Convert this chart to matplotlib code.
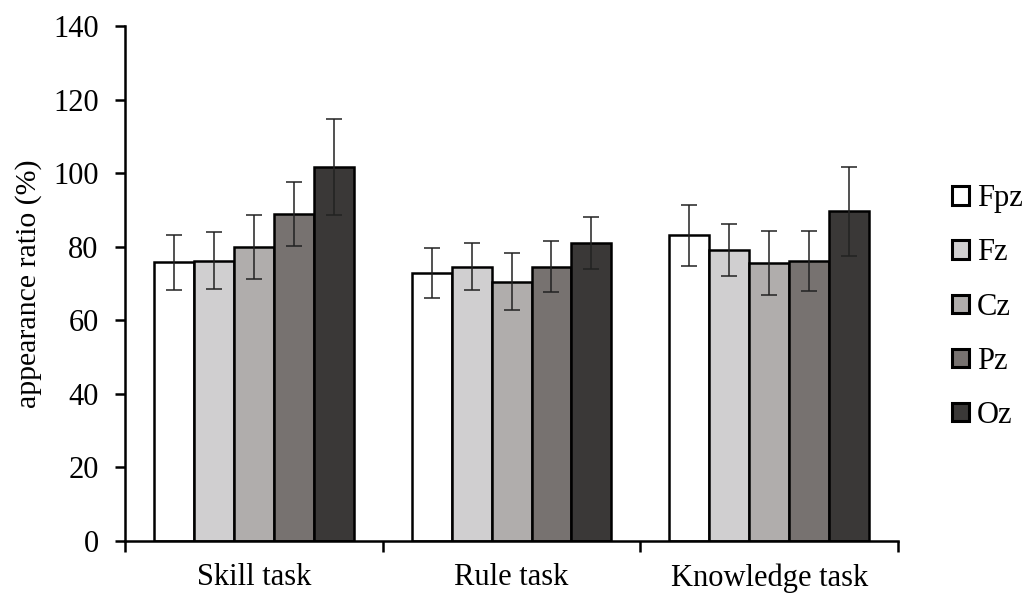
import numpy as np
import matplotlib
matplotlib.use("Agg")
import matplotlib.pyplot as plt
from matplotlib.ticker import FixedLocator

plt.rcParams["font.family"] = ["Liberation Serif", "DejaVu Serif"]

tasks = ["Skill task", "Rule task", "Knowledge task"]
channels = ["Fpz", "Fz", "Cz", "Pz", "Oz"]

# mean appearance ratio (%) per channel, one entry per task
fpz = [75.8, 72.9, 83.1]
fz = [76.2, 74.6, 79.1]
cz = [79.9, 70.5, 75.7]
pz = [88.8, 74.6, 76.1]
oz = [101.7, 81.0, 89.6]

# error bar half-widths
fpz_err = [7.5, 6.8, 8.3]
fz_err = [7.7, 6.5, 7.1]
cz_err = [8.7, 7.7, 8.7]
pz_err = [8.7, 7.0, 8.2]
oz_err = [13.0, 7.1, 12.2]

means = [fpz, fz, cz, pz, oz]
errs = [fpz_err, fz_err, cz_err, pz_err, oz_err]
colors = ["#ffffff", "#d0cfd0", "#b0adac", "#777270", "#3a3837"]

fig = plt.figure(figsize=(10.3, 5.95), dpi=100)
ax = fig.add_axes([0.1214, 0.0908, 0.7505, 0.8655])

x = np.arange(len(tasks))
width = 0.155
for i, (m, e, c, name) in enumerate(zip(means, errs, colors, channels)):
    pos = x + (i - 2) * width
    ax.bar(pos, m, width, color=c, edgecolor="black", linewidth=1.8,
           label=name, zorder=2)
    ax.errorbar(pos, m, yerr=e, fmt="none", ecolor="#222222",
                elinewidth=1.1, capsize=6, capthick=1.1, zorder=3)

ax.set_xlim(-0.5, len(tasks) - 0.5)
ax.set_ylim(0, 140)
ax.set_yticks(np.arange(0, 141, 20))
ax.set_xticks(x)
ax.set_xticklabels(tasks)
ax.xaxis.set_minor_locator(FixedLocator(np.arange(-0.5, len(tasks), 1.0)))
ax.tick_params(axis="x", which="major", length=0, pad=16, labelsize=22)
ax.tick_params(axis="x", which="minor", length=8, width=1.8, direction="out")
ax.tick_params(axis="y", length=7, width=1.8, direction="out", labelsize=22, pad=12)

for s in ["top", "right"]:
    ax.spines[s].set_visible(False)
for s in ["left", "bottom"]:
    ax.spines[s].set_linewidth(1.8)

ax.set_ylabel("appearance ratio (%)", fontsize=21.5, labelpad=8)

leg = fig.legend(loc="center left", bbox_to_anchor=(0.898, 0.484), frameon=False,
                 fontsize=22, handlelength=0.55, handleheight=0.55,
                 handletextpad=0.25, labelspacing=0.82)
for h in leg.legend_handles:
    h.set_linewidth(2.2)

fig.savefig("out.png", dpi=100)
